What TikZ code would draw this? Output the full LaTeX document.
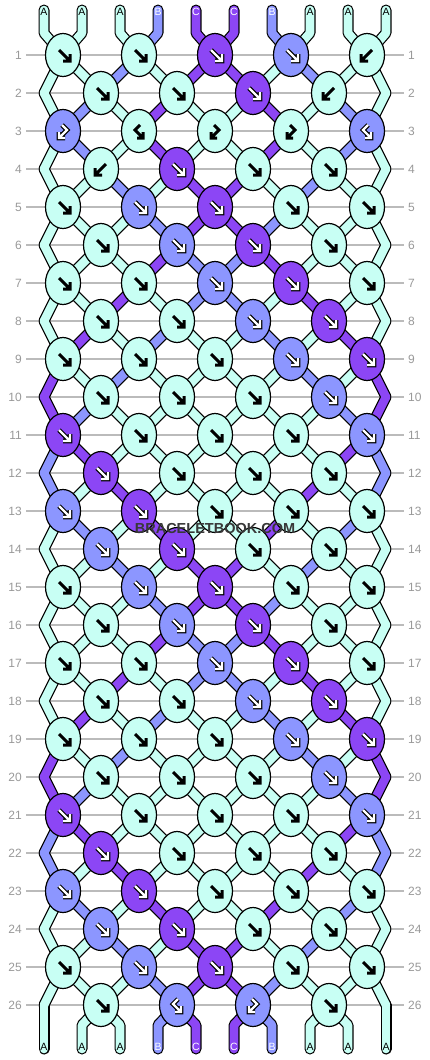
\documentclass[tikz,border=0pt]{standalone}
\usepackage{fontspec}
\setmainfont{Liberation Sans}
\usetikzlibrary{shapes.geometric}
\definecolor{colA}{HTML}{C8FFF4}
\definecolor{colB}{HTML}{8C96FF}
\definecolor{colC}{HTML}{8C46F5}
\definecolor{gridgray}{HTML}{BBBBBB}
\definecolor{numgray}{HTML}{999999}
\definecolor{wmgray}{HTML}{383838}
\tikzset{
  souter/.style={draw=black, line width=11pt, line cap=round, line join=round},
  sinner/.style={draw=col\cc, line width=8.6pt, line cap=round, line join=round},
  knot/.style={draw=black, line width=1.2pt, ellipse, minimum width=35pt, minimum height=43pt, inner sep=0pt},
  arrowblk/.style={draw=black, line width=3pt, line cap=butt, line join=miter},
  arrowout/.style={draw=black, line width=4.6pt, line cap=butt, line join=miter},
  arrowwht/.style={draw=white, line width=2.4pt, line cap=butt, line join=miter},
  gridline/.style={draw=gridgray, line width=1.3pt},
  rowlbl/.style={text=numgray, font=\fontsize{12}{12}\selectfont, inner sep=0pt},
  toplbl/.style={font=\fontsize{10.5}{10.5}\selectfont, inner sep=0pt},
  wmark/.style={text=wmgray, font=\bfseries\fontsize{14.5}{14.5}\selectfont, inner sep=0pt}
}
% x position of string #3 at row #2 (0 = top, 27 = bottom)
\newcommand\setX[3]{%
 \ifnum#2=0\relax \pgfmathsetmacro#1{44+38*(#3-1)}%
 \else\ifnum#2=27\relax \pgfmathsetmacro#1{44+38*(#3-1)}%
 \else\ifodd#2\relax \pgfmathsetmacro#1{63+76*floor((#3-1)/2)}%
 \else\ifnum#3=1\relax \def#1{44}%
 \else\ifnum#3=10\relax \def#1{386}%
 \else \pgfmathsetmacro#1{101+76*floor((#3-2)/2)}%
 \fi\fi\fi\fi\fi}
\newcommand\gdraw[2]{%
 \if#1F\draw[#2] (-4,-5)--(6,5) (7,-1)--(7,6)--(0,6);\fi
 \if#1B\draw[#2] (5,-5)--(-5,5) (-6,-1)--(-6,6)--(1,6);\fi
 \if#1f\draw[#2] (1,-6)--(-4,-1)--(3,6) (4,1)--(4,7)--(-2,7);\fi
 \if#1b\draw[#2] (-1,-6)--(4,-1)--(-3,6) (-4,1)--(-4,7)--(2,7);\fi
}
\def\Slist{%
{A,A,A,B,C,C,B,A,A,A},{A,A,B,A,C,C,A,B,A,A},{A,B,A,C,A,A,C,A,B,A},{A,B,A,C,A,A,C,A,B,A},%
{A,A,B,A,C,C,A,B,A,A},{A,A,A,B,C,C,B,A,A,A},%
{A,A,A,C,B,B,C,A,A,A},{A,A,C,A,B,B,A,C,A,A},{A,C,A,B,A,A,B,A,C,A},{C,A,B,A,A,A,A,B,A,C},%
{C,B,A,A,A,A,A,A,B,C},{B,C,A,A,A,A,A,A,C,B},{B,A,C,A,A,A,A,C,A,B},{A,B,A,C,A,A,C,A,B,A},%
{A,A,B,A,C,C,A,B,A,A},{A,A,A,B,C,C,B,A,A,A},%
{A,A,A,C,B,B,C,A,A,A},{A,A,C,A,B,B,A,C,A,A},{A,C,A,B,A,A,B,A,C,A},{C,A,B,A,A,A,A,B,A,C},%
{C,B,A,A,A,A,A,A,B,C},{B,C,A,A,A,A,A,A,C,B},{B,A,C,A,A,A,A,C,A,B},{A,B,A,C,A,A,C,A,B,A},%
{A,A,B,A,C,C,A,B,A,A},{A,A,A,B,C,C,B,A,A,A},{A,A,A,B,C,C,B,A,A,A}}
\def\Klist{%
{F/A,F/A,F/C,F/B,B/A},{F/A,F/A,F/C,B/A},{b/B,f/A,b/A,b/A,f/B},{B/A,F/C,F/A,F/A},%
{F/A,F/B,F/C,F/A,F/A},{F/A,F/B,F/C,F/A},{F/A,F/A,F/B,F/C,F/A},{F/A,F/A,F/B,F/C},%
{F/A,F/A,F/A,F/B,F/C},{F/A,F/A,F/A,F/B},{F/C,F/A,F/A,F/A,F/B},{F/C,F/A,F/A,F/A},%
{F/B,F/C,F/A,F/A,F/A},{F/B,F/C,F/A,F/A},%
{F/A,F/B,F/C,F/A,F/A},{F/A,F/B,F/C,F/A},{F/A,F/A,F/B,F/C,F/A},{F/A,F/A,F/B,F/C},%
{F/A,F/A,F/A,F/B,F/C},{F/A,F/A,F/A,F/B},{F/C,F/A,F/A,F/A,F/B},{F/C,F/A,F/A,F/A},%
{F/B,F/C,F/A,F/A,F/A},{F/B,F/C,F/A,F/A},%
{F/A,F/B,F/C,F/A,F/A},{F/A,f/B,b/B,F/A}}
\newcommand\drawstrings[1]{%
 \foreach \st [count=\rr from 0] in \Slist {%
  \foreach \cc [count=\ii] in \st {%
   \ifnum\rr=0\relax
     \setX\xt{0}{\ii}\setX\xb{1}{\ii}%
     \draw[#1] (\xt,10) -- (\xt,33) -- (\xb,55);
   \else\ifnum\rr=26\relax
     \setX\xa{26}{\ii}\setX\xt{27}{\ii}%
     \draw[#1] (\xa,1005) -- (\xt,1025) -- (\xt,1049);
   \else
     \pgfmathtruncatemacro\rn{\rr+1}%
     \setX\xa{\rr}{\ii}\setX\xb{\rn}{\ii}%
     \pgfmathsetmacro\ya{55+38*(\rr-1)}%
     \pgfmathsetmacro\yb{\ya+38}%
     \draw[#1] (\xa,\ya) -- (\xb,\yb);
   \fi\fi
  }%
 }%
}
\begin{document}
\begin{tikzpicture}[x=1pt,y=-1pt]
\useasboundingbox (0,0) rectangle (430,1060);
\fill[white] (0,0) rectangle (430,1060);
% grid lines
\foreach \r in {1,...,26} {
  \pgfmathsetmacro\y{55+38*(\r-1)}
  \draw[gridline] (26,\y) -- (404,\y);
}
% strings
\drawstrings{souter}
\drawstrings{sinner}
% knots
\foreach \kr [count=\r] in \Klist {%
  \pgfmathsetmacro\y{55+38*(\r-1)}%
  \foreach \kt/\cc [count=\kk] in \kr {%
    \ifodd\r\relax \pgfmathsetmacro\x{63+76*(\kk-1)}\else \pgfmathsetmacro\x{101+76*(\kk-1)}\fi
    \node[knot, fill=col\cc] (k\r-\kk) at (\x,\y) {};
    \begin{scope}[shift={(\x,\y)}]
      \if A\cc \gdraw{\kt}{arrowblk}\else \gdraw{\kt}{arrowout}\gdraw{\kt}{arrowwht}\fi
    \end{scope}
  }%
}
% row labels
\foreach \r in {1,...,26} {
  \pgfmathsetmacro\y{55+38*(\r-1)}
  \node[rowlbl, anchor=east] (ll\r) at (22,\y) {\r};
  \node[rowlbl, anchor=west] (rl\r) at (408,\y) {\r};
}
% string letters
\foreach \cc [count=\ii] in {A,A,A,B,C,C,B,A,A,A} {
  \pgfmathsetmacro\x{44+38*(\ii-1)}
  \if A\cc \def\tc{black}\else\def\tc{white}\fi
  \node[toplbl, text=\tc] (t\ii) at (\x,12) {\cc};
  \node[toplbl, text=\tc] (b\ii) at (\x,1047) {\cc};
}
\node[wmark] (wm) at (215,529) {BRACELETBOOK.COM};
\end{tikzpicture}
\end{document}
